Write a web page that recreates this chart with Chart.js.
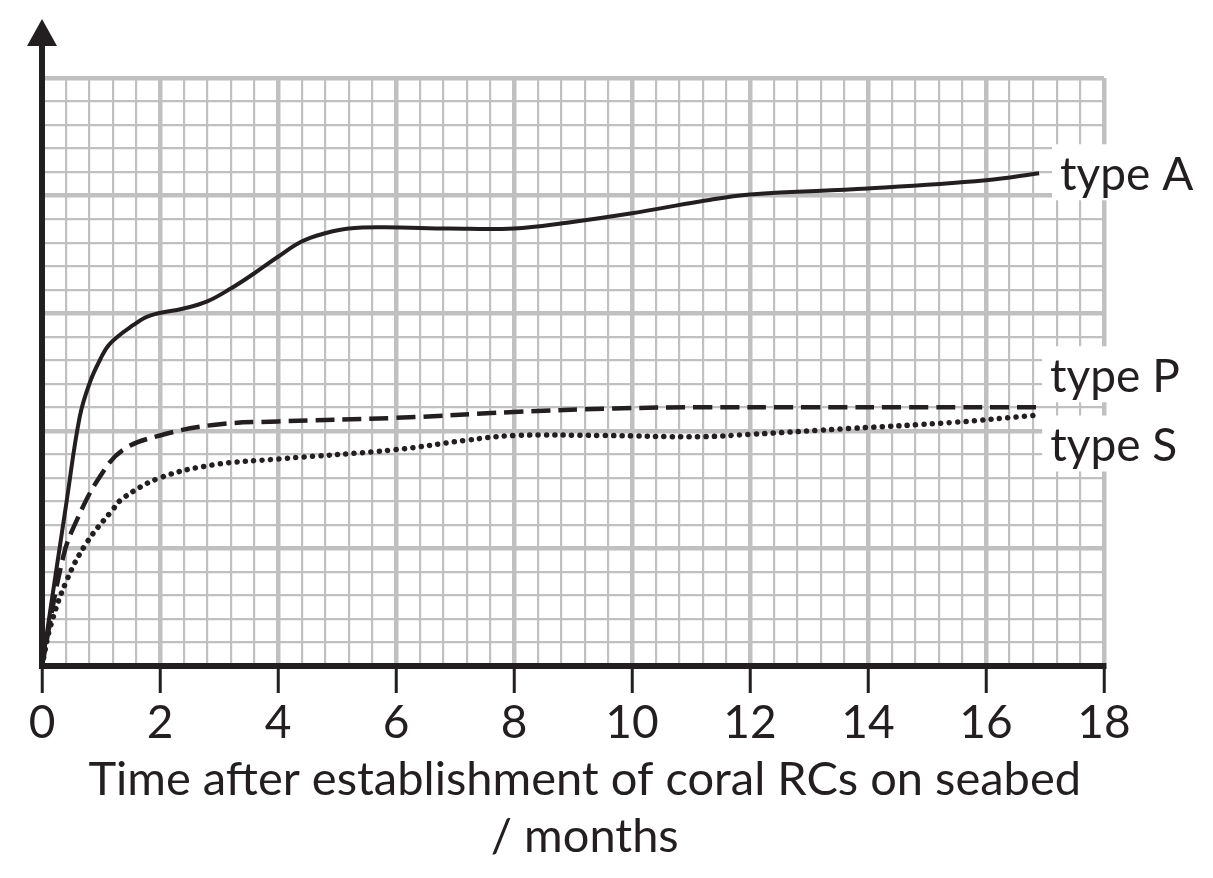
<!DOCTYPE html>
<html>
<head>
<meta charset="utf-8">
<script src="https://cdn.jsdelivr.net/npm/chart.js@4"></script>
<style>
  html, body { margin: 0; padding: 0; background: #fff; }
  #wrap { width: 1213px; height: 878px; }
</style>
</head>
<body>
<div id="wrap"><canvas id="chart" width="1213" height="878"></canvas></div>
<script>
// values (y is an unlabelled scale 0-50)
const xTicksMajor = [0, 2, 4, 6, 8, 10, 12, 14, 16, 18];

const typeAx = [0, 0.42, 0.64, 0.81, 0.98, 1.15, 1.55, 1.83, 2.4, 2.8, 3.2, 3.6, 4.0, 4.4, 4.8, 5.2, 5.8, 6.9, 8.0, 8.9, 10.0, 11.15, 12.0, 14.0, 16.0, 16.9];
const typeAy = [0, 14.1, 21.2, 24.1, 26.0, 27.4, 29.0, 29.8, 30.4, 31.0, 32.1, 33.4, 34.8, 36.1, 36.8, 37.2, 37.3, 37.2, 37.2, 37.7, 38.5, 39.5, 40.1, 40.6, 41.3, 41.9];

const typePx = [0, 0.36, 0.59, 0.98, 1.38, 2.0, 2.9, 4.0, 6.0, 8.0, 9.7, 11.15, 13.0, 15.0, 16.9];
const typePy = [0, 9.3, 12.4, 16.1, 18.4, 19.6, 20.5, 20.8, 21.1, 21.6, 21.9, 22.0, 22.0, 22.0, 22.0];

const typeSx = [0, 0.14, 0.42, 0.76, 1.2, 1.38, 2.0, 2.9, 4.0, 6.0, 7.2, 8.0, 9.5, 11.15, 12.0, 13.7, 15.4, 16.8];
const typeSy = [0, 3.3, 7.3, 10.5, 13.3, 14.3, 16.0, 17.1, 17.6, 18.4, 19.2, 19.6, 19.6, 19.5, 19.7, 20.2, 20.7, 21.3];

const seriesNames = ['type A', 'type P', 'type S'];
const axisTitle = ['Time after establishment of coral RCs on seabed', '/ months'];

const INK = '#231f20';
const GRID = '#c0c0c0';
const FONT = 'Lato, "Open Sans", sans-serif';

function pts(xs, ys) {
  return xs.map((x, i) => ({ x: x, y: ys[i] }));
}

function isMajor(v, step) {
  return Math.abs(v / step - Math.round(v / step)) < 1e-6;
}

// label offsets from the end of each line, in pixels
const labelOffsets = [
  { dx: 21, dy: 2 },
  { dx: 11, dy: -30 },
  { dx: 17, dy: 31 }
];

const decorations = {
  id: 'decorations',
  beforeDatasetsDraw(chart) {
    const ctx = chart.ctx;
    ctx.save();
    ctx.fillStyle = '#fff';
    chart.data.datasets.forEach((ds, i) => {
      const meta = chart.getDatasetMeta(i);
      const last = meta.data[meta.data.length - 1];
      const o = labelOffsets[i];
      const x = last.x + o.dx - 8;
      const y = last.y + o.dy;
      ctx.fillRect(x, y - 31, chart.width - x, 56);
    });
    ctx.restore();
  },
  afterDraw(chart) {
    const ctx = chart.ctx;
    const area = chart.chartArea;
    ctx.save();
    // y-axis extension with arrow head
    ctx.fillStyle = INK;
    ctx.fillRect(area.left - 3, 44, 6, area.top - 44);
    ctx.beginPath();
    ctx.moveTo(area.left, 19);
    ctx.lineTo(area.left - 15, 46);
    ctx.lineTo(area.left + 15, 46);
    ctx.closePath();
    ctx.fill();
    // series labels
    ctx.font = '46px ' + FONT;
    ctx.textBaseline = 'middle';
    ctx.textAlign = 'left';
    chart.data.datasets.forEach((ds, i) => {
      const meta = chart.getDatasetMeta(i);
      const last = meta.data[meta.data.length - 1];
      const o = labelOffsets[i];
      ctx.fillText(seriesNames[i], last.x + o.dx, last.y + o.dy);
    });
    ctx.restore();
  }
};

new Chart(document.getElementById('chart'), {
  type: 'line',
  data: {
    datasets: [
      {
        label: seriesNames[0],
        data: pts(typeAx, typeAy),
        borderColor: INK,
        borderWidth: 4,
        tension: 0.4,
        pointRadius: 0
      },
      {
        label: seriesNames[1],
        data: pts(typePx, typePy),
        borderColor: INK,
        borderWidth: 4.5,
        borderDash: [19, 8],
        tension: 0.4,
        pointRadius: 0
      },
      {
        label: seriesNames[2],
        data: pts(typeSx, typeSy),
        borderColor: INK,
        borderWidth: 5.5,
        borderDash: [0.1, 8.3],
        borderCapStyle: 'round',
        tension: 0.4,
        pointRadius: 0
      }
    ]
  },
  options: {
    responsive: false,
    animation: false,
    maintainAspectRatio: false,
    layout: { padding: { left: 42, top: 78, right: 109, bottom: 0 } },
    plugins: {
      legend: { display: false },
      tooltip: { enabled: false }
    },
    scales: {
      x: {
        type: 'linear',
        min: 0,
        max: 18,
        afterFit(scale) { scale.height = 212; },
        border: { display: true, color: INK, width: 6 },
        grid: {
          color: GRID,
          lineWidth: ctx => isMajor(ctx.tick.value, 2) ? 4.5 : 2.2,
          drawTicks: true,
          tickLength: 27,
          tickWidth: 3,
          tickColor: ctx => isMajor(ctx.tick.value, 2) ? INK : 'rgba(0,0,0,0)'
        },
        ticks: {
          stepSize: 0.4,
          autoSkip: false,
          maxRotation: 0,
          padding: 3,
          color: INK,
          font: { family: FONT, size: 46 },
          callback: v => (isMajor(v, 2) && xTicksMajor.includes(Math.round(v))) ? String(Math.round(v)) : ''
        },
        title: {
          display: true,
          // en space nudges the centred title to the right, as in the reference
          text: axisTitle.map(t => '\u2002' + t),
          color: INK,
          font: { family: FONT, size: 47, lineHeight: 1.22 },
          padding: { top: 0, bottom: 12 }
        }
      },
      y: {
        type: 'linear',
        min: 0,
        max: 50,
        afterFit(scale) { scale.width = 0; },
        border: { display: true, color: INK, width: 6 },
        grid: {
          color: GRID,
          lineWidth: ctx => isMajor(ctx.tick.value, 10) ? 4.5 : 2.2,
          drawTicks: false
        },
        ticks: { stepSize: 2, display: false, autoSkip: false }
      }
    }
  },
  plugins: [decorations]
});
</script>
</body>
</html>
